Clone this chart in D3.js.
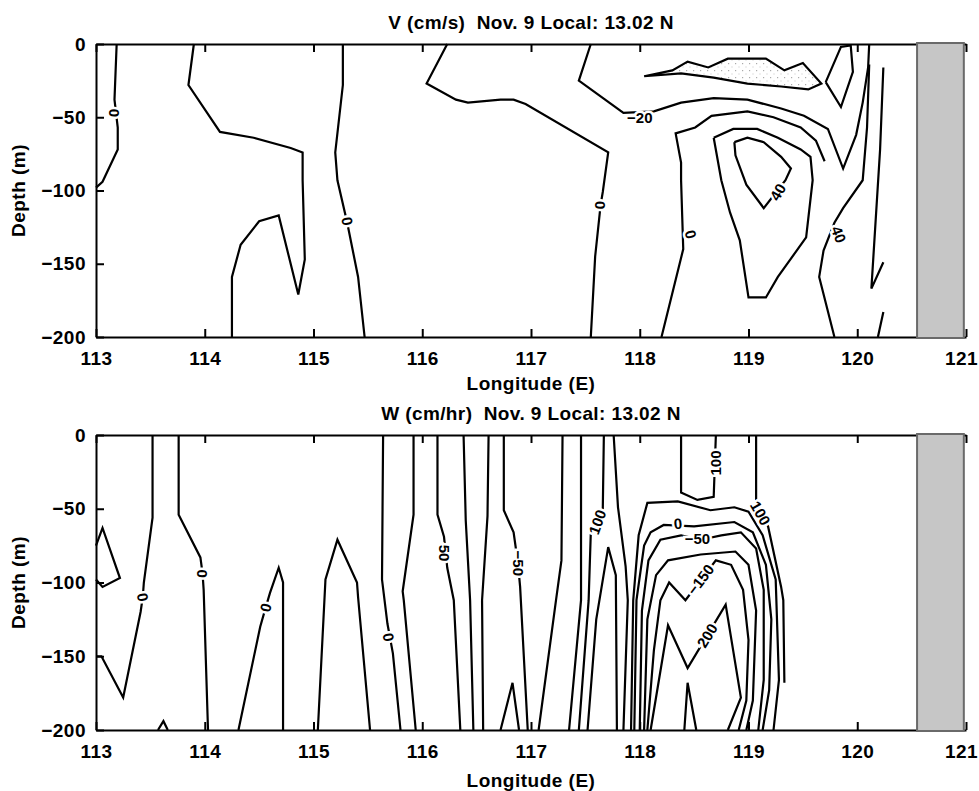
<!DOCTYPE html>
<html>
<head>
<meta charset="utf-8">
<script src="https://cdn.jsdelivr.net/npm/d3@7"></script>
<style>
  body { margin: 0; background: #fff; }
  svg text { font-family: "Liberation Sans", Arial, sans-serif; font-weight: bold; fill: #000; }
</style>
</head>
<body>
<svg id="chart" width="979" height="791"></svg>
<script>
// ===== Data (longitude E, depth m) =====
const lonTicks = [113, 114, 115, 116, 117, 118, 119, 120, 121];
const depthTicks = [0, -50, -100, -150, -200];
const landLon = [120.55, 120.98];

// V (cm/s) contour polylines
const vLines = [
  [[113.19,0],[113.17,-38],[113.20,-57],[113.20,-72],[113.06,-94],[113.00,-98]],
  [[113.90,0],[113.85,-28],[114.14,-60],[114.45,-64],[114.79,-71],[114.90,-74],[114.90,-93],[114.92,-147],[114.86,-171],[114.68,-117],[114.50,-121],[114.33,-137],[114.25,-159],[114.25,-200]],
  [[115.27,0],[115.27,-28],[115.20,-74],[115.22,-93],[115.31,-122],[115.41,-159],[115.47,-200]],
  [[116.23,0],[116.04,-27],[116.31,-38],[116.42,-40],[116.72,-38],[116.84,-38],[116.95,-41],[117.71,-74],[117.66,-101],[117.64,-110],[117.59,-145],[117.55,-200]],
  [[117.55,0],[117.44,-25],[117.85,-47],[118.13,-46],[118.38,-40],[118.68,-37],[118.99,-38],[119.30,-44],[119.51,-49],[119.73,-58],[119.87,-85],[119.99,-62],[120.05,-40],[120.10,-16],[120.11,0]],
  [[119.71,-26],[119.85,-2],[119.94,-1],[119.96,-19],[119.85,-43],[119.71,-26]],
  [[120.11,-14],[120.09,-57],[120.05,-93],[119.87,-112],[119.79,-122],[119.69,-141],[119.65,-159],[119.79,-200]],
  [[120.24,-16],[120.21,-72],[120.13,-167],[120.24,-149]],
  [[120.24,-183],[120.19,-200]],
  [[118.20,-200],[118.40,-140],[118.38,-93],[118.38,-81],[118.33,-61],[118.51,-57],[118.66,-49],[118.99,-46],[119.23,-50],[119.48,-57],[119.62,-66],[119.70,-80]],
  [[118.68,-64],[118.86,-58],[119.08,-58],[119.27,-64],[119.48,-72],[119.57,-77],[119.59,-93],[119.53,-132],[119.27,-159],[119.16,-173],[119.00,-173],[118.92,-134],[118.83,-115],[118.75,-93],[118.68,-64]],
  [[118.87,-67],[118.99,-64],[119.14,-67],[119.30,-77],[119.39,-85],[119.34,-93],[119.14,-112],[118.98,-96],[118.88,-76],[118.87,-67]]
];
// negative tongue (shaded in the reference)
const vTongue = [[118.04,-22],[118.30,-18],[118.44,-12],[118.63,-16],[118.81,-10],[119.16,-10],[119.33,-18],[119.50,-13],[119.67,-27],[119.55,-31],[119.30,-29],[118.99,-27],[118.68,-23],[118.38,-20],[118.04,-22]];
const vLabels = [
  [113.17, -47, "0", 90],
  [115.31, -121, "0", 80],
  [117.64, -110, "0", 90],
  [118.47, -130, "0", 75],
  [118.00, -50, "\u221220", 0],
  [119.27, -101, "40", -60],
  [119.83, -130, "40", 70]
];

// W (cm/hr) contour polylines
const wLines = [
  [[113.00,-75],[113.06,-63],[113.22,-97],[113.06,-103],[113.00,-98]],
  [[113.52,0],[113.52,-56],[113.44,-100],[113.43,-110],[113.41,-120],[113.25,-178],[113.05,-150],[113.00,-150]],
  [[113.57,-200],[113.62,-194],[113.66,-200]],
  [[113.76,0],[113.76,-54],[113.96,-83],[113.98,-94],[113.99,-105],[114.03,-200]],
  [[114.31,-200],[114.51,-130],[114.56,-117],[114.60,-107],[114.68,-90],[114.72,-100],[114.72,-200]],
  [[115.04,-200],[115.11,-98],[115.22,-71],[115.40,-100],[115.41,-110],[115.52,-200]],
  [[115.64,0],[115.63,-98],[115.68,-128],[115.73,-148],[115.80,-200]],
  [[115.92,0],[115.92,-54],[115.82,-106],[115.83,-112],[115.94,-200]],
  [[116.14,0],[116.14,-54],[116.20,-69],[116.23,-90],[116.29,-112],[116.35,-200]],
  [[116.38,0],[116.40,-58],[116.44,-112],[116.47,-200]],
  [[116.61,0],[116.60,-55],[116.55,-112],[116.56,-200]],
  [[116.75,0],[116.75,-51],[116.84,-66],[116.88,-87],[116.90,-103],[116.97,-200]],
  [[116.72,-200],[116.83,-168],[116.89,-200]],
  [[117.29,0],[117.28,-85],[117.23,-112],[117.07,-200]],
  [[117.46,0],[117.46,-112],[117.35,-200]],
  [[117.67,0],[117.66,-51],[117.55,-66],[117.53,-112],[117.44,-200]],
  [[117.76,0],[117.80,-49],[117.87,-89],[117.89,-112],[117.85,-200]],
  [[117.52,-200],[117.60,-125],[117.71,-76],[117.78,-95],[117.79,-200]],
  [[118.38,0],[118.38,-39],[118.53,-44],[118.68,-42],[118.70,0]],
  [[119.07,0],[119.07,-44],[119.18,-62],[119.30,-103],[119.32,-112],[119.33,-168]],
  [[117.92,-200],[117.94,-112],[117.99,-68],[118.07,-46],[118.35,-45],[118.65,-51],[118.87,-49],[119.00,-52],[119.13,-68],[119.25,-98],[119.28,-166],[119.23,-200]],
  [[117.95,-200],[117.97,-112],[118.04,-75],[118.10,-66],[118.22,-61],[118.50,-62],[118.87,-59],[119.04,-66],[119.16,-88],[119.21,-125],[119.19,-173],[119.13,-200]],
  [[118.00,-200],[118.02,-119],[118.08,-85],[118.19,-71],[118.38,-68],[118.56,-71],[118.75,-68],[118.93,-66],[119.07,-77],[119.14,-105],[119.14,-166],[119.09,-200]],
  [[118.04,-200],[118.07,-125],[118.15,-95],[118.26,-85],[118.56,-81],[118.88,-79],[119.00,-88],[119.07,-119],[119.04,-180],[118.98,-200]],
  [[118.07,-200],[118.13,-146],[118.19,-112],[118.27,-100],[118.42,-112],[118.70,-85],[118.84,-88],[118.95,-105],[119.00,-139],[118.98,-180],[118.91,-200]],
  [[118.10,-200],[118.26,-129],[118.44,-158],[118.79,-115],[118.93,-178],[118.81,-200]],
  [[118.41,-200],[118.44,-168],[118.52,-200]]
];
const wLabels = [
  [113.43, -110, "0", 80],
  [113.98, -94, "0", 90],
  [114.56, -117, "0", -75],
  [115.69, -137, "0", 80],
  [116.20, -80, "50", 90],
  [116.88, -87, "\u221250", 90],
  [117.61, -59, "100", -70],
  [118.70, -19, "100", -90],
  [119.11, -53, "100", 60],
  [118.35, -60, "0", -5],
  [118.53, -70, "\u221250", 0],
  [118.56, -98, "\u2212150", -53],
  [118.62, -136, "200", -59]
];

// ===== Layout =====
const svg = d3.select("#chart");
const XL = 96, XR = 966;
const x = d3.scaleLinear().domain([113, 121]).range([XL, XR]);

// light stipple for the shaded negative band
const defs = svg.append("defs");
const pat = defs.append("pattern").attr("id", "stip")
  .attr("width", 7).attr("height", 7).attr("patternUnits", "userSpaceOnUse");
pat.append("rect").attr("x", 0).attr("y", 0).attr("width", 1.2).attr("height", 1.2).attr("fill", "#aaa");
pat.append("rect").attr("x", 3.5).attr("y", 3.5).attr("width", 1).attr("height", 1).attr("fill", "#c4c4c4");

const panels = [
  { top: 44, bottom: 337, lines: vLines, labels: vLabels, shade: vTongue,
    title: "V (cm/s)  Nov. 9 Local: 13.02 N", titleY: 29, xlabY: 390 },
  { top: 435, bottom: 730, lines: wLines, labels: wLabels, shade: null,
    title: "W (cm/hr)  Nov. 9 Local: 13.02 N", titleY: 420, xlabY: 787 }
];

panels.forEach(drawPanel);

function drawPanel(p){
  const y = d3.scaleLinear().domain([-200, 0]).range([p.bottom, p.top]);
  const g = svg.append("g");

  const line = d3.line().x(d => x(d[0])).y(d => y(d[1]));

  if (p.shade) {
    g.append("path").attr("d", line(p.shade))
      .attr("fill", "url(#stip)").attr("stroke", "none");
  }

  // contours
  g.selectAll("path.ct").data(p.shade ? p.lines.concat([p.shade]) : p.lines).join("path")
    .attr("class", "ct")
    .attr("d", line)
    .attr("fill", "none")
    .attr("stroke", "#000")
    .attr("stroke-width", 2.2)
    .attr("stroke-linejoin", "miter");

  // contour labels (white halo breaks the line)
  g.selectAll("text.cl").data(p.labels).join("text")
    .attr("class", "cl")
    .attr("transform", d => `translate(${x(d[0])},${y(d[1])}) rotate(${d[3]})`)
    .attr("text-anchor", "middle")
    .attr("dy", "0.36em")
    .style("font-size", "15px")
    .style("paint-order", "stroke")
    .attr("stroke", "#fff")
    .attr("stroke-width", 5)
    .text(d => d[2]);

  // axes, inward ticks
  const xb = d3.axisBottom(x).tickValues(lonTicks).tickSizeInner(-8).tickSizeOuter(0).tickPadding(15).tickFormat(d3.format("d"));
  const xt = d3.axisTop(x).tickValues(lonTicks).tickSizeInner(-8).tickSizeOuter(0).tickFormat("");
  const yl = d3.axisLeft(y).tickValues(depthTicks).tickSizeInner(-8).tickSizeOuter(0).tickPadding(10);

  const gx = g.append("g").attr("transform", `translate(0,${p.bottom})`).call(xb);
  const gt = g.append("g").attr("transform", `translate(0,${p.top})`).call(xt);
  const gy = g.append("g").attr("transform", `translate(${XL},0)`).call(yl);
  [gx, gt, gy].forEach(a => {
    a.select(".domain").attr("stroke", "#000").attr("stroke-width", 2);
    a.selectAll(".tick line").attr("stroke", "#000").attr("stroke-width", 2);
    a.selectAll("text").attr("fill", "#000")
      .style("font-size", "19px").style("letter-spacing", "0.5px")
      .attr("font-family", null);
  });
  // last label sits on the page edge; nudge it in
  gx.selectAll(".tick text").filter(d => d === 121).attr("dx", -5);

  // land mask
  g.append("rect")
    .attr("x", x(landLon[0])).attr("y", p.top - 1)
    .attr("width", x(landLon[1]) - x(landLon[0]))
    .attr("height", p.bottom - p.top + 2)
    .attr("fill", "#c6c6c6")
    .attr("stroke", "#6a6a6a")
    .attr("stroke-width", 2);

  // titles
  svg.append("text")
    .attr("x", (XL + XR) / 2).attr("y", p.titleY)
    .attr("text-anchor", "middle")
    .style("font-size", "19px").style("white-space", "pre").style("letter-spacing", "0.4px")
    .text(p.title);
  svg.append("text")
    .attr("x", (XL + XR) / 2).attr("y", p.xlabY)
    .attr("text-anchor", "middle")
    .style("font-size", "19px").style("letter-spacing", "0.5px")
    .text("Longitude (E)");
  svg.append("text")
    .attr("transform", `translate(25,${(p.top + p.bottom) / 2}) rotate(-90)`)
    .attr("text-anchor", "middle")
    .style("font-size", "19px").style("letter-spacing", "0.5px")
    .text("Depth (m)");
}
</script>
</body>
</html>
